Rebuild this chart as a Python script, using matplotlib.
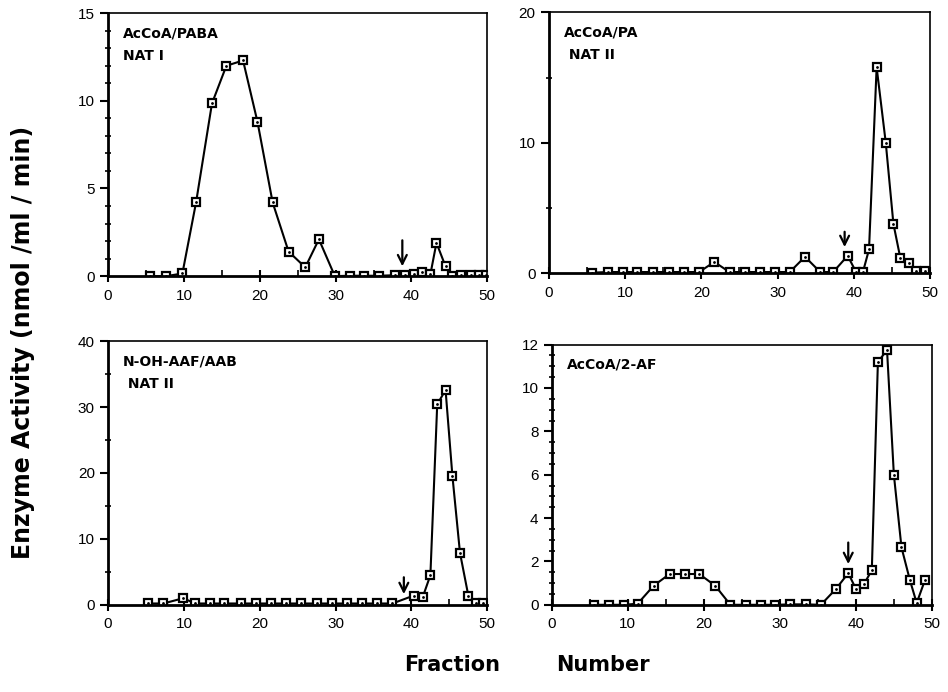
import numpy as np
import matplotlib.pyplot as plt
from matplotlib.ticker import MultipleLocator

plt.rcParams['font.family'] = ['Liberation Sans', 'DejaVu Sans']

# fraction numbers and activities
x_paba = [5.5, 7.7, 9.8, 11.6, 13.7, 15.6, 17.8, 19.7, 21.7, 23.8, 26.0, 27.8, 29.9,
          31.9, 33.8, 35.7, 37.8, 39.2, 40.3, 41.4, 42.5, 43.3, 44.5, 45.4, 46.5, 47.8, 48.9, 49.8]
y_paba = [0, 0, 0.15, 4.2, 9.85, 12.0, 12.3, 8.8, 4.2, 1.4, 0.5, 2.1, 0,
          0.02, 0.02, 0.02, 0.05, 0.05, 0.1, 0.25, 0.1, 1.9, 0.55, 0, 0.08, 0.08, 0.08, 0.08]

x_pa = [5.7, 7.7, 9.7, 11.6, 13.7, 15.8, 17.7, 19.7, 21.7, 23.7, 25.7, 27.7, 29.7, 31.6,
        33.6, 35.6, 37.3, 39.2, 40.3, 41.2, 42.0, 43.0, 44.2, 45.2, 46.1, 47.2, 48.2, 49.3]
y_pa = [0.05, 0.1, 0.1, 0.1, 0.1, 0.1, 0.1, 0.1, 0.87, 0.1, 0.1, 0.1, 0.1, 0.1,
        1.27, 0.1, 0.1, 1.35, 0.1, 0.1, 1.83, 15.8, 10.0, 3.8, 1.2, 0.82, 0.2, 0.2]

x_aab = [5.3, 7.3, 9.9, 11.5, 13.5, 15.3, 17.5, 19.5, 21.5, 23.5, 25.5, 27.5, 29.5, 31.5,
         33.5, 35.5, 37.5, 40.3, 41.5, 42.5, 43.4, 44.5, 45.4, 46.4, 47.5, 48.5, 49.5]
y_aab = [0.2, 0.2, 1.0, 0.2, 0.2, 0.2, 0.2, 0.2, 0.2, 0.2, 0.2, 0.2, 0.2, 0.2,
         0.2, 0.2, 0.2, 1.4, 1.2, 4.5, 30.4, 32.6, 19.6, 7.9, 1.4, 0.2, 0.2]

x_af = [5.5, 7.5, 9.5, 11.3, 13.4, 15.5, 17.5, 19.4, 21.5, 23.5, 25.6, 27.5, 29.4, 31.4,
        33.5, 35.4, 37.4, 39.0, 40.0, 41.1, 42.1, 42.9, 44.1, 45.0, 46.0, 47.1, 48.0, 49.1]
y_af = [0, 0, 0, 0.05, 0.88, 1.42, 1.42, 1.42, 0.88, 0, 0, 0, 0, 0.02,
        0.02, 0, 0.74, 1.46, 0.74, 0.97, 1.6, 11.2, 11.75, 6.0, 2.65, 1.15, 0.08, 1.15]

panels = [
    dict(x=x_paba, y=y_paba, ymax=15, major=5, minor=1, label="AcCoA/PABA\nNAT I",
         rect=[0.114, 0.601, 0.400, 0.380], arrow=(38.8, 2.2, 0.4)),
    dict(x=x_pa, y=y_pa, ymax=20, major=10, minor=5, label="AcCoA/PA\n NAT II",
         rect=[0.579, 0.605, 0.402, 0.377], arrow=(38.8, 3.4, 1.8)),
    dict(x=x_aab, y=y_aab, ymax=40, major=10, minor=5, label="N-OH-AAF/AAB\n NAT II",
         rect=[0.114, 0.126, 0.400, 0.381], arrow=(39.0, 4.6, 1.2)),
    dict(x=x_af, y=y_af, ymax=12, major=2, minor=0.5, label="AcCoA/2-AF",
         rect=[0.582, 0.126, 0.401, 0.376], arrow=(39.0, 3.0, 1.75)),
]

fig = plt.figure(figsize=(9.48, 6.92), dpi=100)

for p in panels:
    ax = fig.add_axes(p['rect'])
    ax.plot(p['x'], p['y'], color='black', lw=1.5, marker='s', markersize=6,
            markerfacecolor='white', markeredgecolor='black', markeredgewidth=1.6)
    ax.plot(p['x'], p['y'], ls='none', marker='.', markersize=2, color='black')
    ax.set_xlim(0, 50)
    ax.set_ylim(0, p['ymax'])
    ax.xaxis.set_major_locator(MultipleLocator(10))
    ax.xaxis.set_minor_locator(MultipleLocator(5))
    ax.yaxis.set_major_locator(MultipleLocator(p['major']))
    ax.yaxis.set_minor_locator(MultipleLocator(p['minor']))
    ax.tick_params(axis='x', which='major', direction='inout', length=8, width=1.5,
                   labelsize=11, pad=5)
    ax.tick_params(axis='x', which='minor', direction='in', length=4, width=1.2)
    ax.tick_params(axis='y', which='major', direction='out', length=6, width=1.5,
                   labelsize=11)
    ax.tick_params(axis='y', which='minor', direction='inout', length=4, width=1.2)
    ax.tick_params(top=False, right=False, which='both')
    for side in ['left', 'bottom']:
        ax.spines[side].set_linewidth(2)
    for side in ['top', 'right']:
        ax.spines[side].set_linewidth(1.2)
    ax.text(0.04, 0.95, p['label'], transform=ax.transAxes, va='top', ha='left',
            fontsize=10, fontweight='bold', linespacing=1.8, family='DejaVu Sans')
    xa, y0, y1 = p['arrow']
    ax.annotate('', xy=(xa, y1), xytext=(xa, y0),
                arrowprops=dict(arrowstyle='->', color='black', lw=1.6,
                                mutation_scale=16))

fig.text(0.024, 0.505, "Enzyme Activity (nmol /ml / min)", rotation=90, va='center',
         ha='center', fontsize=17, fontweight='bold', family='DejaVu Sans')
fig.text(0.477, 0.039, "Fraction", ha='center', va='center', fontsize=15,
         fontweight='bold', family='DejaVu Sans')
fig.text(0.636, 0.039, "Number", ha='center', va='center', fontsize=15,
         fontweight='bold', family='DejaVu Sans')

fig.savefig('out.png', dpi=100)
